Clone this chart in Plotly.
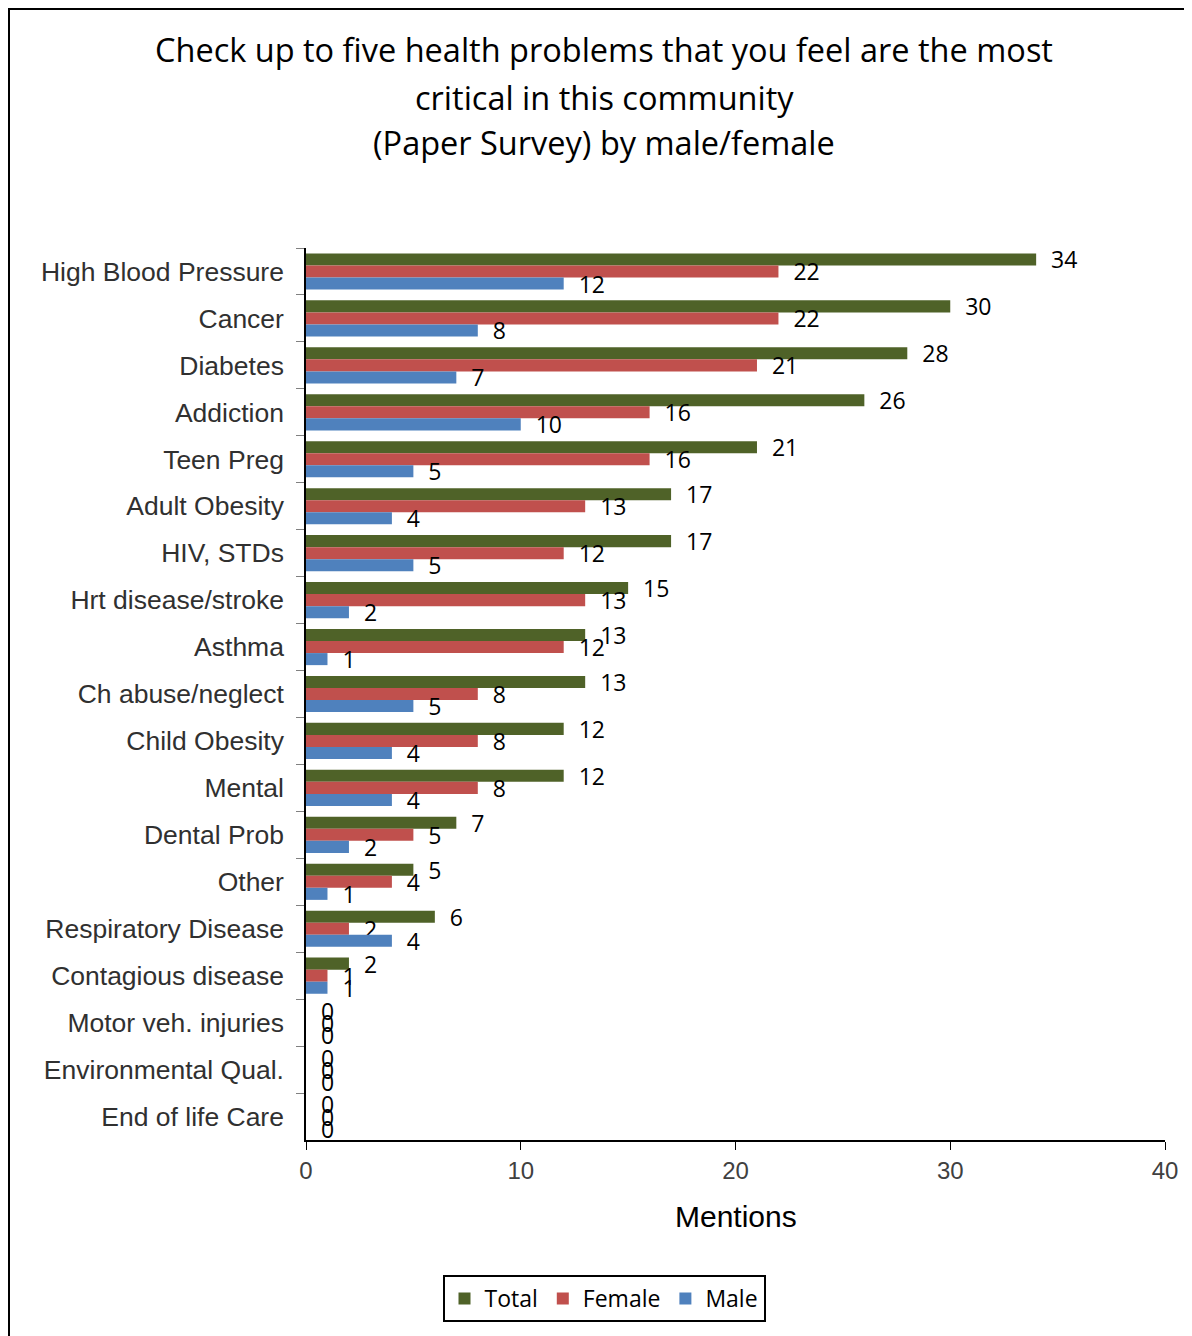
import plotly.graph_objects as go

categories = ["High Blood Pressure", "Cancer", "Diabetes", "Addiction", "Teen Preg",
              "Adult Obesity", "HIV, STDs", "Hrt disease/stroke", "Asthma",
              "Ch abuse/neglect", "Child Obesity", "Mental", "Dental Prob", "Other",
              "Respiratory Disease", "Contagious disease", "Motor veh. injuries",
              "Environmental Qual.", "End of life Care"]
total = [34, 30, 28, 26, 21, 17, 17, 15, 13, 13, 12, 12, 7, 5, 6, 2, 0, 0, 0]
female = [22, 22, 21, 16, 16, 13, 12, 13, 12, 8, 8, 8, 5, 4, 2, 1, 0, 0, 0]
male = [12, 8, 7, 10, 5, 4, 5, 2, 1, 5, 4, 4, 2, 1, 4, 1, 0, 0, 0]
x_ticks = [0, 10, 20, 30, 40]
title_lines = ["Check up to five health problems that you feel are the most",
               "critical in this community",
               "(Paper Survey) by male/female"]

# page body adds an 8px offset; work in screen pixels and subtract it
OFF = 8
W, H = 1192 - OFF, 1336 - OFF
L, R, T, B = 306 - OFF, 1165 - OFF, 248 - OFF, 1140 - OFF
pw, ph = R - L, B - T

def px(x):
    return (x - OFF - L) / pw

def py(y):
    return (B - (y - OFF)) / ph

calib = "Open Sans, Carlito, Calibri, sans-serif"
arial = "Liberation Sans, Arial, sans-serif"
label_font = dict(family=calib, size=23, color="black")

fig = go.Figure()
for name, vals, color in [("Total", total, "#4F6228"),
                          ("Female", female, "#C0504D"),
                          ("Male", male, "#4F81BD")]:
    fig.add_trace(go.Bar(
        y=categories, x=vals, name=name, orientation="h",
        marker=dict(color=color, line=dict(width=0)),
        texttemplate="\u00a0\u00a0%{x}", textposition="outside",
        textfont=label_font, constraintext="none", cliponaxis=False,
    ))

fig.update_layout(
    width=W, height=H,
    margin=dict(l=L, r=W - R, t=T, b=H - B),
    paper_bgcolor="white", plot_bgcolor="white",
    barmode="group", bargap=0.23, bargroupgap=0,
    showlegend=True,
    legend=dict(orientation="h", x=px(604), xanchor="center", y=py(1275), yanchor="top",
                bordercolor="black", borderwidth=2,
                font=dict(family=calib, size=23, color="black"),
                traceorder="normal", itemwidth=30),
    xaxis=dict(range=[0, 40], tickvals=x_ticks, showgrid=False, zeroline=False,
               showline=True, linecolor="black", linewidth=1.5,
               ticks="outside", ticklen=8, tickcolor="black",
               tickfont=dict(family=arial, size=24, color="#404040")),
    yaxis=dict(autorange="reversed", showgrid=False, zeroline=False,
               showline=True, linecolor="black", linewidth=1.5,
               ticks="outside", ticklen=8, tickcolor="#808080", tickson="boundaries",
               ticklabelstandoff=15,
               tickfont=dict(family=arial, size=26.5, color="#303030")),
)

for line, yc in zip(title_lines, [50, 97, 142]):
    fig.add_annotation(text=line, xref="paper", yref="paper", x=px(604), y=py(yc),
                       xanchor="center", yanchor="middle", showarrow=False,
                       font=dict(family=calib, size=32.5, color="black"))

fig.add_annotation(text="Mentions", xref="paper", yref="paper", x=px(736), y=py(1216),
                   xanchor="center", yanchor="middle", showarrow=False,
                   font=dict(family=arial, size=30, color="black"))

fig.add_shape(type="rect", xref="paper", yref="paper",
              x0=px(9), y0=py(9), x1=px(1192 + 10), y1=py(1336 + 10),
              line=dict(color="black", width=2), fillcolor="rgba(0,0,0,0)", layer="below")

fig.write_html("out.html")
